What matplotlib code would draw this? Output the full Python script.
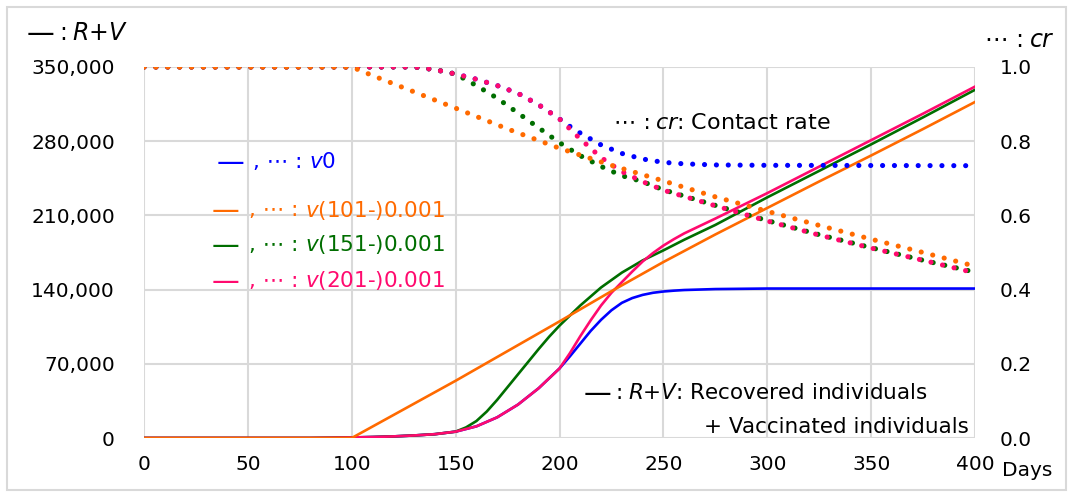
import matplotlib
matplotlib.use("Agg")
import matplotlib.pyplot as plt
from matplotlib.patches import Rectangle

plt.rcParams['font.family'] = ['DejaVu Sans']
plt.rcParams['mathtext.fontset'] = 'dejavusans'

# ---- R+V : recovered + vaccinated individuals ----
rv_days_v0 = [0, 80, 90, 100, 110, 120, 130, 140, 150, 160, 170, 180, 190, 200,
              205, 210, 215, 220, 225, 230, 235, 240, 245, 250, 255, 260, 275, 300, 400]
rv_v0 = [0, 0, 200, 500, 900, 1500, 2400, 3600, 6000, 11000, 19500, 31500, 47000, 65600,
         77000, 89000, 101000, 111500, 120500, 127500, 132000, 135000, 137000, 138200, 139000, 139600,
         140500, 141000, 141000]

rv_days_v151 = [0, 80, 90, 100, 110, 120, 130, 140, 150, 155, 160, 165, 170, 175, 180, 185, 190, 195, 200,
                210, 220, 230, 240, 250, 260, 275, 300, 325, 350, 375, 400]
rv_v151 = [0, 0, 200, 500, 900, 1500, 2400, 3600, 6000, 10000, 16000, 25000, 36000, 48000, 60000, 72000,
           84000, 95500, 106000, 125000, 142000, 156000, 167500, 177000, 187000, 201000, 227000, 252000,
           277000, 302500, 328500]

rv_days_v201 = [0, 80, 90, 100, 110, 120, 130, 140, 150, 160, 170, 180, 190, 200,
                205, 210, 215, 220, 225, 230, 235, 240, 245, 250, 255, 260, 275, 300, 325, 350, 375, 400]
rv_v201 = [0, 0, 200, 500, 900, 1500, 2400, 3600, 6000, 11000, 19500, 31500, 47000, 65600,
           80000, 96000, 111000, 125000, 137000, 147000, 157000, 166500, 174500, 181500, 187500, 193000,
           207000, 231000, 256000, 281000, 306000, 331500]

rv_days_v101 = [0, 100, 125, 150, 175, 200, 225, 250, 275, 300, 325, 350, 375, 400]
rv_v101 = [0, 0, 27000, 54000, 82000, 110000, 138500, 166000, 192000, 217000, 242000, 266500, 291500, 317000]

# ---- cr : contact rate ----
cr_days_v0 = [0, 130, 140, 150, 160, 170, 180, 190, 200, 205, 210, 220, 230, 240, 250, 260, 275, 300, 400]
cr_v0 = [1.0, 1.0, 0.993, 0.981, 0.967, 0.950, 0.929, 0.898, 0.860, 0.840, 0.822, 0.790,
         0.767, 0.752, 0.743, 0.739, 0.736, 0.735, 0.734]

cr_days_v151 = [0, 130, 140, 150, 160, 170, 180, 190, 200, 210, 220, 230, 240, 250, 275, 300, 325, 350, 375, 400]
cr_v151 = [1.0, 1.0, 0.993, 0.981, 0.950, 0.916, 0.876, 0.836, 0.796, 0.761, 0.732, 0.707,
           0.691, 0.669, 0.627, 0.586, 0.548, 0.513, 0.479, 0.447]

cr_days_v201 = [0, 130, 140, 150, 160, 170, 180, 190, 200, 210, 220, 230, 240, 250, 275, 300, 325, 350, 375, 400]
cr_v201 = [1.0, 1.0, 0.993, 0.981, 0.967, 0.950, 0.929, 0.898, 0.860, 0.806, 0.756, 0.718,
           0.691, 0.668, 0.626, 0.585, 0.547, 0.512, 0.479, 0.445]

cr_days_v101 = [0, 100, 110, 125, 150, 175, 200, 225, 250, 275, 300, 325, 350, 375, 400]
cr_v101 = [1.0, 1.0, 0.977, 0.944, 0.889, 0.833, 0.781, 0.735, 0.693, 0.650, 0.611, 0.573,
           0.536, 0.500, 0.463]

x_ticks = [0, 50, 100, 150, 200, 250, 300, 350, 400]
left_ticks = [0, 70000, 140000, 210000, 280000, 350000]
right_ticks = [0.0, 0.2, 0.4, 0.6, 0.8, 1.0]

Blue = "#0000FF"
Orange = "#FF6A00"
Green = "#006E00"
Pink = "#FF0A6E"
GridColour = "#D9D9D9"
TickSize = 14.5
TextSize = 15.5

W, H = 1073, 497
fig = plt.figure(figsize=(W / 100, H / 100), dpi=100)

def fx(x):
    return x / W

def fy(y):
    return 1 - y / H

ax = fig.add_axes([fx(144), fy(438), fx(975) - fx(144), fy(67) - fy(438)])
ax2 = ax.twinx()

solid_lw = 1.9
ax.plot(rv_days_v0, rv_v0, color=Blue, lw=solid_lw)
ax.plot(rv_days_v151, rv_v151, color=Green, lw=solid_lw)
ax.plot(rv_days_v201, rv_v201, color=Pink, lw=solid_lw)
ax.plot(rv_days_v101, rv_v101, color=Orange, lw=solid_lw)

dot_lw = 3.7
dots = (0, (0.01, 2.3))
for d, v, c in [(cr_days_v0, cr_v0, Blue), (cr_days_v151, cr_v151, Green),
                (cr_days_v201, cr_v201, Pink), (cr_days_v101, cr_v101, Orange)]:
    ax2.plot(d, v, color=c, lw=dot_lw, linestyle=dots, dash_capstyle='round')

ax.set_xlim(0, 400)
ax.set_ylim(0, 350000)
ax2.set_ylim(0, 1.0)
ax.set_xticks(x_ticks)
ax.set_yticks(left_ticks)
ax.set_yticklabels([f"{v:,}" for v in left_ticks])
ax2.set_yticks(right_ticks)
ax2.set_yticklabels([f"{v:.1f}" for v in right_ticks])

ax.grid(True, color=GridColour, lw=1.5)
ax.set_axisbelow(True)
for a in (ax, ax2):
    for s in a.spines.values():
        s.set_visible(False)
ax.tick_params(axis='x', length=0, pad=12, labelsize=TickSize)
ax.tick_params(axis='y', length=0, pad=21, labelsize=TickSize)
ax2.tick_params(axis='y', length=0, pad=18, labelsize=TickSize)

# outer frame
fig.patches.append(Rectangle((fx(7), fy(490)), fx(1066) - fx(7), fy(7) - fy(490),
                             transform=fig.transFigure, fill=False,
                             edgecolor=GridColour, lw=1.5))

fig.text(fx(1002), fy(470), "Days", fontsize=TickSize, va='center', ha='left')

def label(x_dash, x_colon, x_body, y, mid, body, colour="black", size=TextSize):
    """Line key (dash), dotted key and caption, placed by pixel position."""
    if x_dash is not None:
        fig.text(fx(x_dash), fy(y + 1), "—", color=colour, fontsize=20,
                 ha='left', va='center')
    fig.text(fx(x_colon), fy(y), mid, color=colour, fontsize=size,
             ha='right', va='center')
    fig.text(fx(x_body), fy(y), body, color=colour, fontsize=size,
             ha='left', va='center')

# axis captions
label(27, 67, 72, 33, ":", "$R$+$V$", size=17)
label(None, 1024, 1029, 40, "⋯ :", "$cr$", size=17)

# series key
label(217, 302, 309, 162, ", ⋯ :", r"$\mathit{v0}$", Blue)
label(212, 298, 305, 210, ", ⋯ :", "$v$(101-)0.001", Orange)
label(212, 298, 305, 245, ", ⋯ :", "$v$(151-)0.001", Green)
label(212, 298, 305, 281, ", ⋯ :", "$v$(201-)0.001", Pink)

# curve descriptions
label(None, 651, 655, 123, "⋯ :", "$cr$: Contact rate", size=16)
label(584, 623, 628, 393, ":", "$R$+$V$: Recovered individuals")
fig.text(fx(969), fy(427), "+ Vaccinated individuals", fontsize=TextSize, ha='right', va='center')

fig.savefig("out.png", dpi=100)
